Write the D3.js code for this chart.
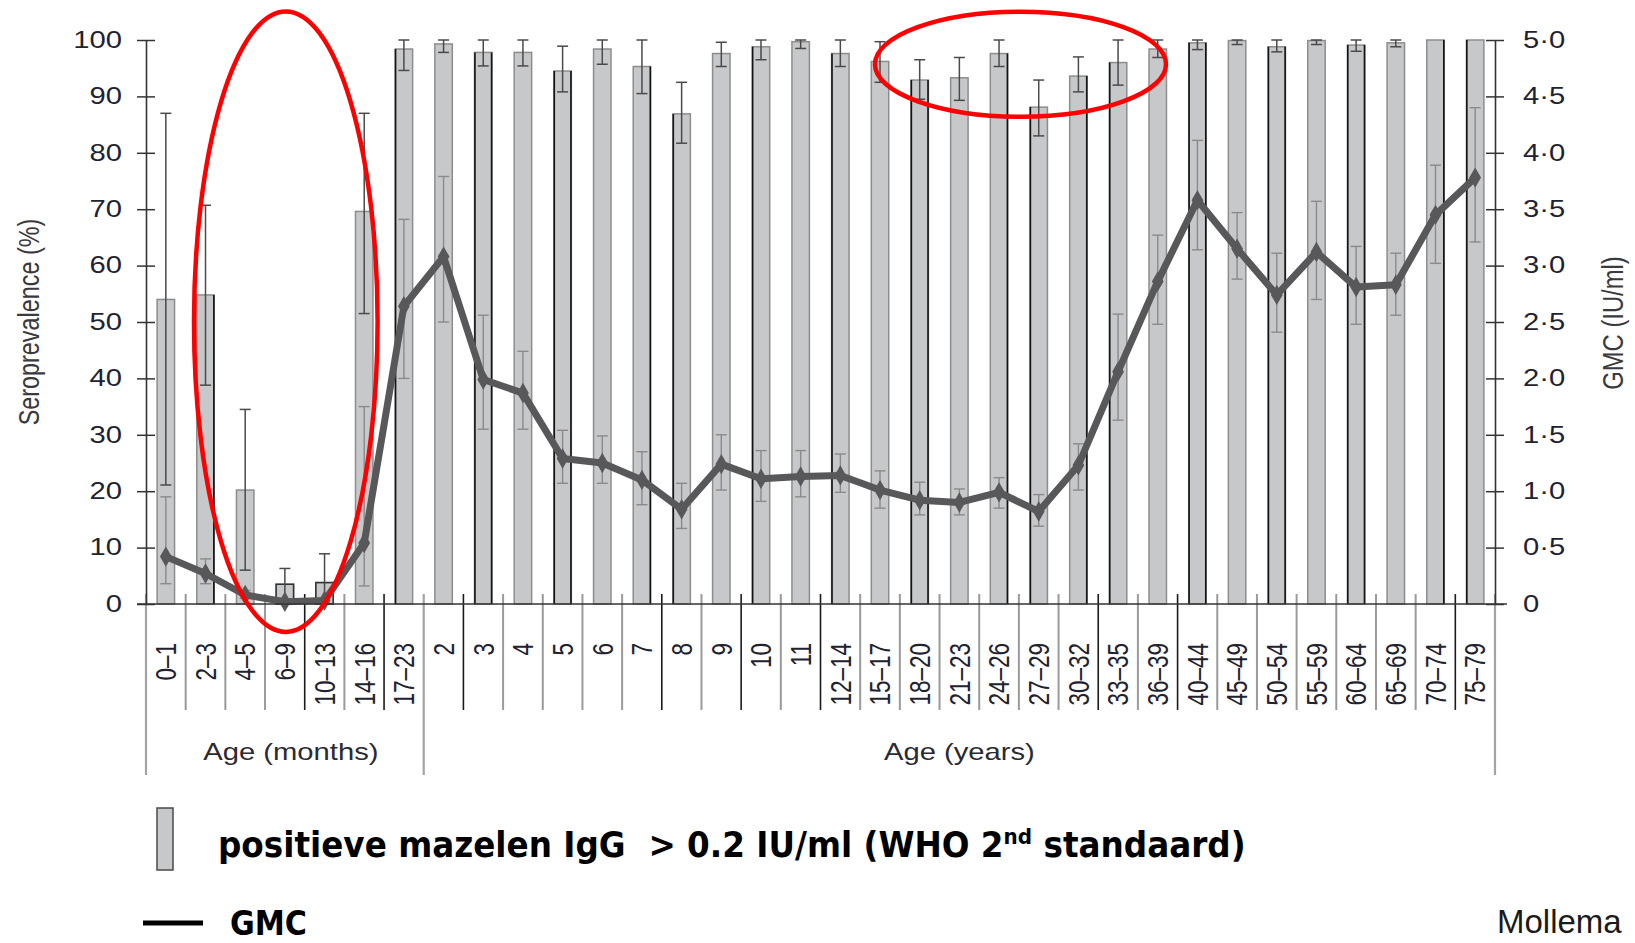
<!DOCTYPE html>
<html><head><meta charset="utf-8">
<script src="https://cdn.jsdelivr.net/npm/d3@7/dist/d3.min.js"></script>
<style>body{margin:0;background:#fff;overflow:hidden}</style>
</head><body>
<svg id="chart" width="1635" height="943"></svg>
<script>
// ---------- data ----------
const categories = ["0–1","2–3","4–5","6–9","10–13","14–16","17–23","2","3","4","5","6","7","8","9","10","11",
  "12–14","15–17","18–20","21–23","24–26","27–29","30–32","33–35","36–39","40–44","45–49","50–54","55–59","60–64","65–69","70–74","75–79"];
const groupLabels = ["Age (months)","Age (years)"];
const groupBounds = [0,7,34];
const prevalence = [54.0,54.8,20.2,3.5,3.8,69.6,98.4,99.3,97.8,97.8,94.5,98.4,95.3,86.9,97.6,98.8,99.7,97.6,96.2,92.9,93.3,97.6,88.1,93.6,96.0,98.4,99.5,99.9,98.8,99.9,99.1,99.5,100,100];
const prevLow  = [21.1,38.8,6.0,0,0,51.5,94.6,97.8,95.4,95.4,90.8,95.7,90.5,81.7,95.3,96.5,98.5,95.3,92.5,89.5,89.3,95.3,83.0,90.8,92.0,96.9,98.3,99.2,97.9,99.2,98.0,98.8,100,100];
const prevHigh = [87.0,70.7,34.5,6.3,8.9,87.0,100,100,100,100,98.9,100,100,92.5,99.6,100,100,100,99.7,96.5,96.9,100,92.9,97.0,100,100,100,100,100,100,100,100,100,100];
const gmc     = [0.42,0.27,0.08,0.02,0.03,0.54,2.64,3.08,1.99,1.87,1.29,1.25,1.10,0.84,1.24,1.11,1.13,1.14,1.01,0.92,0.90,0.99,0.82,1.23,2.06,2.86,3.58,3.15,2.74,3.12,2.81,2.83,3.45,3.78];
const gmcLow  = [0.18,0.18,0.05,0.01,0.01,0.16,2.00,2.50,1.55,1.55,1.07,1.07,0.88,0.67,1.01,0.91,0.95,0.99,0.85,0.79,0.79,0.85,0.69,1.01,1.63,2.48,3.14,2.88,2.41,2.70,2.48,2.56,3.02,3.21];
const gmcHigh = [0.95,0.40,0.12,0.04,0.05,1.75,3.41,3.79,2.56,2.24,1.54,1.49,1.35,1.07,1.50,1.36,1.36,1.33,1.18,1.08,1.02,1.12,0.97,1.42,2.57,3.27,4.11,3.47,3.11,3.57,3.17,3.11,3.89,4.40];
const leftTicks = [0,10,20,30,40,50,60,70,80,90,100];
const rightTicks = [0,0.5,1,1.5,2,2.5,3,3.5,4,4.5,5];
const rightTickLabels = ["0","0·5","1·0","1·5","2·0","2·5","3·0","3·5","4·0","4·5","5·0"];
const legendBarText = ["positieve mazelen IgG\u00a0\u00a0> 0.2 IU/ml (WHO 2", "nd", " standaard)"];
const legendLineText = "GMC";
const sourceText = "Mollema";
// style helpers (scan artefacts: dark bar edges, dark separators)
const barEdges = ["","R","","","","","L","","LR","","LR","","R","L","","L","","L","","LR","","R","L","R","L","","LR","","LR","","LR","","R","L"];
const darkSeparators = [4,6,8,13,15,17,24,26,33];

// ---------- layout ----------
const svg = d3.select("#chart");
const X0 = 146, X1 = 1495, Y0 = 604, Y1 = 40;
const SX = 1.27;
const FONT = "'Liberation Sans', Arial, Helvetica, sans-serif";
const x = d3.scaleBand().domain(categories).range([X0, X1]).paddingInner(0.56).paddingOuter(0.28);
const xs = d3.scaleBand().domain(categories).range([X0, X1]).padding(0);
const yL = d3.scaleLinear().domain([0, 100]).range([Y0, Y1]);
const yR = d3.scaleLinear().domain([0, 5]).range([Y0, Y1]);
const cx = c => x(c) + x.bandwidth() / 2;
const bound = k => k < categories.length ? xs(categories[k]) : X1;

function stext(g, px, py, str, o = {}) {
  const t = g.append("text")
    .attr("transform", `translate(${px},${py}) scale(${o.sx ?? SX},1)` + (o.rotate ? ` rotate(${o.rotate})` : ""))
    .attr("font-family", o.family || FONT)
    .attr("font-size", o.size || 23)
    .attr("text-anchor", o.anchor || "start")
    .attr("fill", o.fill || "#1f2330")
    .text(str);
  if (o.dy) t.attr("dy", o.dy);
  return t;
}

// ---------- separators ----------
const sep = svg.append("g");
d3.range(1, categories.length).filter(k => !groupBounds.includes(k)).forEach(k => {
  const dark = darkSeparators.includes(k);
  sep.append("line").attr("x1", bound(k)).attr("x2", bound(k)).attr("y1", 594).attr("y2", 710)
    .attr("stroke", dark ? "#1a1a1a" : "#9a9a9a").attr("stroke-width", dark ? 1.6 : 2);
});
groupBounds.forEach(k => {
  sep.append("line").attr("x1", bound(k)).attr("x2", bound(k)).attr("y1", 594).attr("y2", 775)
    .attr("stroke", "#a3a3a3").attr("stroke-width", 2.2);
});

// ---------- bars ----------
const bars = svg.append("g");
bars.selectAll("rect").data(categories).join("rect")
  .attr("x", c => x(c)).attr("width", x.bandwidth())
  .attr("y", (c, i) => yL(prevalence[i])).attr("height", (c, i) => Y0 - yL(prevalence[i]))
  .attr("fill", "#c7c8ca").attr("stroke", "#8d8d8d").attr("stroke-width", 1.5);
categories.forEach((c, i) => {
  const e = barEdges[i];
  const xs2 = [];
  if (e.includes("L")) xs2.push(x(c) + 0.4);
  if (e.includes("R")) xs2.push(x(c) + x.bandwidth() - 0.4);
  xs2.forEach(xx => bars.append("line").attr("x1", xx).attr("x2", xx)
    .attr("y1", yL(prevalence[i])).attr("y2", Y0).attr("stroke", "#141414").attr("stroke-width", 1.6));
});
categories.forEach((c, i) => {
  if (prevalence[i] < 10) bars.append("rect").attr("x", x(c)).attr("width", x.bandwidth())
    .attr("y", yL(prevalence[i])).attr("height", Y0 - yL(prevalence[i]))
    .attr("fill", "none").attr("stroke", "#333").attr("stroke-width", 1.5);
});

// ---------- error bars ----------
function errBar(g, xc, ya, yb, color, w) {
  if (Math.abs(ya - yb) < 0.5) return;
  const hw = 5.5;
  g.append("line").attr("x1", xc).attr("x2", xc).attr("y1", ya).attr("y2", yb).attr("stroke", color).attr("stroke-width", w);
  g.append("line").attr("x1", xc - hw).attr("x2", xc + hw).attr("y1", ya).attr("y2", ya).attr("stroke", color).attr("stroke-width", w);
  g.append("line").attr("x1", xc - hw).attr("x2", xc + hw).attr("y1", yb).attr("y2", yb).attr("stroke", color).attr("stroke-width", w);
}
const eg = svg.append("g");
categories.forEach((c, i) => errBar(eg, cx(c), yR(gmcLow[i]), yR(gmcHigh[i]), "#8a8a8a", 1.4));
categories.forEach((c, i) => errBar(eg, cx(c), yL(prevLow[i]), yL(prevHigh[i]), "#4a4a4a", 1.5));

// ---------- GMC line ----------
const line = d3.line().x(c => cx(c)).y((c, i) => yR(gmc[i]));
svg.append("path").datum(categories).attr("d", line)
  .attr("fill", "none").attr("stroke", "#58585a").attr("stroke-width", 7).attr("stroke-linejoin", "round");
svg.append("g").selectAll("path").data(categories).join("path")
  .attr("d", d3.symbol(d3.symbolDiamond, 120))
  .attr("transform", (c, i) => `translate(${cx(c)},${yR(gmc[i])})`)
  .attr("fill", "#58585a");

// ---------- axes ----------
function styleAxis(g, textX) {
  g.select(".domain").attr("stroke", "#333").attr("stroke-width", 1.6);
  g.selectAll(".tick line").attr("stroke", "#333").attr("stroke-width", 1.5);
  g.selectAll(".tick text").attr("font-family", FONT).attr("font-size", 23).attr("fill", "#1f2330")
    .attr("x", textX / SX).attr("transform", `scale(${SX},1)`);
}
const axL = svg.append("g").attr("transform", `translate(${X0},0)`)
  .call(d3.axisLeft(yL).tickValues(leftTicks).tickSizeInner(9).tickSizeOuter(0).tickPadding(15));
axL.selectAll(".tick line").attr("x1", 9);
styleAxis(axL, -24);
const axR = svg.append("g").attr("transform", `translate(${X1},0)`)
  .call(d3.axisRight(yR).tickValues(rightTicks).tickFormat((d, i) => rightTickLabels[i]).tickSizeInner(9).tickSizeOuter(0).tickPadding(19));
axR.selectAll(".tick line").attr("x1", -9);
styleAxis(axR, 28);

const axB = svg.append("g").attr("transform", `translate(0,${Y0})`)
  .call(d3.axisBottom(x).tickSize(0).tickPadding(0));
axB.select(".domain").attr("d", `M137,0H1507`).attr("stroke", "#333").attr("stroke-width", 1.6);
axB.selectAll(".tick text")
  .attr("font-family", FONT).attr("font-size", 22.5).attr("fill", "#1f2330")
  .attr("y", null).attr("x", null).attr("dy", "0.36em").attr("text-anchor", "end")
  .attr("transform", `translate(0,${643 - Y0}) scale(${SX},1) rotate(-90)`);

// group labels
const gl = svg.append("g");
groupLabels.forEach((lab, i) => {
  const mid = (bound(groupBounds[i]) + bound(groupBounds[i + 1])) / 2;
  stext(gl, mid + (i === 0 ? 6 : 0), 760, lab, { size: 23, anchor: "middle", fill: "#2a2a32" });
});

// axis titles
stext(svg, 29, 322, "Seroprevalence (%)", { size: 23.4, anchor: "middle", rotate: -90, dy: "0.35em", fill: "#3a3a3e" });
stext(svg, 1612, 323, "GMC (IU/ml)", { size: 23.8, anchor: "middle", rotate: -90, dy: "0.35em", fill: "#3a3a3e" });

// ---------- red annotation ellipses ----------
svg.append("ellipse").attr("cx", 285.8).attr("cy", 321.7).attr("rx", 91.8).attr("ry", 310.3)
  .attr("fill", "none").attr("stroke", "#ff0000").attr("stroke-width", 4.5);
svg.append("ellipse").attr("cx", 1020.5).attr("cy", 64.2).attr("rx", 145.5).attr("ry", 52.5)
  .attr("fill", "none").attr("stroke", "#ff0000").attr("stroke-width", 4.5);

// ---------- legend ----------
const lg = svg.append("g");
lg.append("rect").attr("x", 157).attr("y", 808).attr("width", 16).attr("height", 62)
  .attr("fill", "#c7c8ca").attr("stroke", "#4a4a4a").attr("stroke-width", 1.5);
const lt = lg.append("text").attr("font-family", "'DejaVu Sans', Verdana, sans-serif")
  .attr("font-weight", "bold").attr("font-size", 36).attr("fill", "#000");
lt.append("tspan").text(legendBarText[0]);
lt.append("tspan").attr("dy", -13).attr("font-size", 22).text(legendBarText[1]);
lt.append("tspan").attr("dy", 13).text(legendBarText[2]);
const lw = lt.node().getBBox().width;
lt.attr("transform", `translate(218,857) scale(${1028 / lw},1)`);

lg.append("line").attr("x1", 143).attr("x2", 203).attr("y1", 923).attr("y2", 923).attr("stroke", "#000").attr("stroke-width", 5);
const gt = lg.append("text").attr("font-family", "'DejaVu Sans', Verdana, sans-serif")
  .attr("font-weight", "bold").attr("font-size", 34).attr("fill", "#000").text(legendLineText);
const gw = gt.node().getBBox().width;
gt.attr("transform", `translate(230,935) scale(${77 / gw},1)`);

svg.append("text").attr("x", 1497).attr("y", 933).attr("font-family", FONT).attr("font-size", 33)
  .attr("fill", "#1a1a1a").text(sourceText);
</script>
</body></html>
